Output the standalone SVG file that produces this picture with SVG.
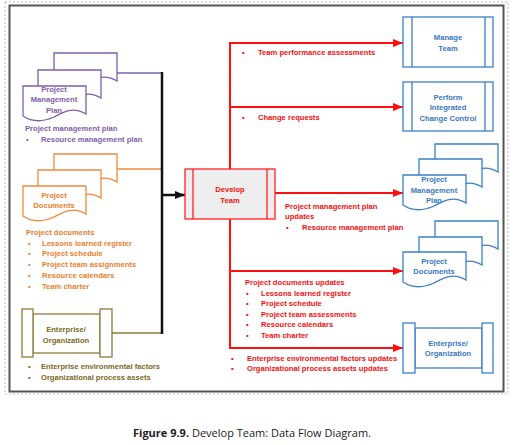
<svg xmlns="http://www.w3.org/2000/svg" width="514" height="445" viewBox="0 0 514 445">
<style>
text{font-family:"Liberation Sans",Arial,sans-serif;font-weight:bold;font-size:7.6px}
.c{text-anchor:middle}
.pu{fill:#7f60a8}.or{fill:#e7802f}.ol{fill:#7d6a25}.rd{fill:#f01010}.bl{fill:#3a78c0}
.dpu{fill:#fff;stroke:#7f60a8;stroke-width:1.3}
.dor{fill:#fff;stroke:#ee8a3a;stroke-width:1.3}
.dbl{fill:#fff;stroke:#3a80c8;stroke-width:1.3}
.red{stroke:#ff1010;stroke-width:2;fill:none}
.cap{font-family:"Open Sans","Liberation Sans",sans-serif;font-size:11px;font-weight:normal;fill:#222}
</style>
<defs>
<path id="doc" d="M0,0 H63 V28 C50,20 40,26 31,31 C20,36 9,36 0,30 Z"/>
<marker id="ar" viewBox="0 0 10 8" refX="10" refY="4" markerWidth="10" markerHeight="8" markerUnits="userSpaceOnUse" orient="auto"><path d="M0,0 L10,4 L0,8 Z" fill="#ff1010"/></marker>
<marker id="ak" viewBox="0 0 10 8" refX="10" refY="4" markerWidth="10" markerHeight="8" markerUnits="userSpaceOnUse" orient="auto"><path d="M0,0 L10,4 L0,8 Z" fill="#111"/></marker>
</defs>
<rect x="5" y="2" width="503" height="392" fill="none" stroke="#bbb" stroke-width="1" stroke-dasharray="2,2"/>
<rect x="9.5" y="5.5" width="494" height="386" fill="#fff" stroke="#555" stroke-width="2"/>

<g id="connectors">
<path d="M117,73 H162" stroke="#7f60a8" stroke-width="1.3" fill="none"/>
<path d="M117,169 H162" stroke="#ee8a3a" stroke-width="1.3" fill="none"/>
<path d="M112,333 H162" stroke="#8c7a3a" stroke-width="1.3" fill="none"/>
<path d="M162,72 V334" stroke="#111" stroke-width="2.5" fill="none"/>
<path d="M162,195 H185" stroke="#111" stroke-width="2.5" fill="none" marker-end="url(#ak)"/>
<path class="red" d="M230,169 V43 H403" marker-end="url(#ar)"/>
<path class="red" d="M230,107 H403" marker-end="url(#ar)"/>
<path class="red" d="M275,193 H403" marker-end="url(#ar)"/>
<path class="red" d="M230,219 V348 H403" marker-end="url(#ar)"/>
<path class="red" d="M230,271 H403" marker-end="url(#ar)"/>
</g>

<g id="in-pmp">
<use href="#doc" x="54" y="53" class="dpu"/>
<use href="#doc" x="38" y="70" class="dpu"/>
<use href="#doc" x="23" y="86" class="dpu"/>
<text class="c pu" x="54" y="92">Project</text>
<text class="c pu" x="54" y="102">Management</text>
<text class="c pu" x="54" y="113">Plan</text>
<text class="pu" x="25" y="131">Project management plan</text>
<text class="pu" x="26" y="142">•</text>
<text class="pu" x="41" y="142">Resource management plan</text>
</g>

<g id="in-pd">
<use href="#doc" x="54" y="154" class="dor"/>
<use href="#doc" x="38" y="170" class="dor"/>
<use href="#doc" x="23" y="186" class="dor"/>
<text class="c or" x="54" y="198">Project</text>
<text class="c or" x="54" y="208">Documents</text>
<text class="or" x="26" y="235">Project documents</text>
<g class="or">
<text x="28" y="246">•</text><text x="42" y="246">Lessons learned register</text>
<text x="28" y="256">•</text><text x="42" y="256">Project schedule</text>
<text x="28" y="267">•</text><text x="42" y="267">Project team assignments</text>
<text x="28" y="278">•</text><text x="42" y="278">Resource calendars</text>
<text x="28" y="289">•</text><text x="42" y="289">Team charter</text>
</g>
</g>

<g id="in-eo" fill="#fff" stroke="#8c7a3a" stroke-width="1.3">
<rect x="33" y="314" width="67" height="39"/>
<rect x="22" y="309" width="11" height="48"/>
<rect x="100" y="309" width="12" height="48"/>
<text class="c ol" x="66" y="332" stroke="none">Enterprise/</text>
<text class="c ol" x="66" y="343" stroke="none">Organization</text>
<text class="ol" x="28" y="369" stroke="none">•</text>
<text class="ol" x="41" y="369" stroke="none">Enterprise environmental factors</text>
<text class="ol" x="28" y="380" stroke="none">•</text>
<text class="ol" x="41" y="380" stroke="none">Organizational process assets</text>
</g>

<g id="develop-team">
<rect x="185" y="169" width="90" height="50" fill="#eeeeee" stroke="#ff2020" stroke-width="1.3"/>
<path d="M193,169 V219 M267,169 V219" stroke="#ff2020" stroke-width="1.3"/>
<text class="c rd" x="230" y="192">Develop</text>
<text class="c rd" x="230" y="203">Team</text>
</g>

<g id="out-labels" class="rd">
<text x="242" y="55">•</text><text x="258" y="55">Team performance assessments</text>
<text x="242" y="120">•</text><text x="258" y="120">Change requests</text>
<text x="285" y="209">Project management plan</text>
<text x="285" y="219">updates</text>
<text x="286" y="230">•</text><text x="302" y="230">Resource management plan</text>
<text x="245" y="285">Project documents updates</text>
<text x="246" y="296">•</text><text x="261" y="296">Lessons learned register</text>
<text x="246" y="306">•</text><text x="261" y="306">Project schedule</text>
<text x="246" y="317">•</text><text x="261" y="317">Project team assessments</text>
<text x="246" y="327">•</text><text x="261" y="327">Resource calendars</text>
<text x="246" y="338">•</text><text x="261" y="338">Team charter</text>
<text x="231" y="361">•</text><text x="247" y="361">Enterprise environmental factors updates</text>
<text x="231" y="371">•</text><text x="247" y="371">Organizational process assets updates</text>
</g>

<g id="manage-team" fill="#fff" stroke="#3a80c8" stroke-width="1.3">
<rect x="403" y="17" width="90" height="50"/>
<path d="M412,17 V67 M485,17 V67"/>
<text class="c bl" x="448" y="40" stroke="none">Manage</text>
<text class="c bl" x="448" y="51" stroke="none">Team</text>
</g>

<g id="picc" fill="#fff" stroke="#3a80c8" stroke-width="1.3">
<rect x="403" y="82" width="90" height="49"/>
<path d="M412,82 V131 M485,82 V131"/>
<text class="c bl" x="448" y="100" stroke="none">Perform</text>
<text class="c bl" x="448" y="110" stroke="none">Integrated</text>
<text class="c bl" x="448" y="121" stroke="none">Change Control</text>
</g>

<g id="out-pmp">
<use href="#doc" x="435" y="144" class="dbl"/>
<use href="#doc" x="419" y="159" class="dbl"/>
<use href="#doc" x="403" y="175" class="dbl"/>
<text class="c bl" x="434" y="182">Project</text>
<text class="c bl" x="434" y="193">Management</text>
<text class="c bl" x="434" y="203">Plan</text>
</g>

<g id="out-pd">
<use href="#doc" x="435" y="221" class="dbl"/>
<use href="#doc" x="419" y="237" class="dbl"/>
<use href="#doc" x="403" y="252" class="dbl"/>
<text class="c bl" x="434" y="264">Project</text>
<text class="c bl" x="434" y="274">Documents</text>
</g>

<g id="out-eo" fill="#fff" stroke="#3a80c8" stroke-width="1.3">
<rect x="415" y="328" width="67" height="40"/>
<rect x="403" y="323" width="12" height="50"/>
<rect x="482" y="323" width="11" height="50"/>
<text class="c bl" x="448" y="346" stroke="none">Enterprise/</text>
<text class="c bl" x="448" y="356" stroke="none">Organization</text>
</g>

<text class="cap" x="133" y="437"><tspan font-weight="bold">Figure 9.9.</tspan> Develop Team: Data Flow Diagram.</text>
</svg>
